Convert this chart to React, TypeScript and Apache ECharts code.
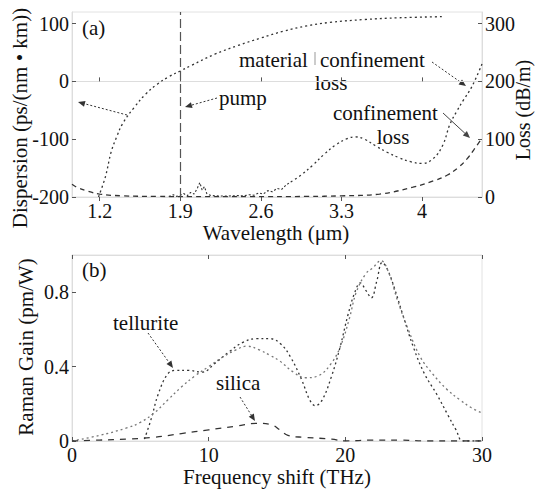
import React, { useEffect, useRef } from "react";
import * as echarts from "echarts";

// ---------- Panel (a) ----------
const wavelengthTicks = [1.2, 1.9, 2.6, 3.3, 4];
const dispersionTicks = [-200, -100, 0, 100];
const lossTicks = [0, 100, 200, 300];
const pumpWavelength = 1.9;

// dispersion, ps/(nm km)
const dispersionData: [number, number][] = [
  [1.19, -200], [1.25, -165], [1.3, -122], [1.35, -95], [1.4, -73], [1.5, -45],
  [1.6, -22], [1.7, -5], [1.8, 8], [1.9, 18], [2.0, 28], [2.2, 47], [2.4, 62],
  [2.6, 75], [2.8, 87], [3.0, 96], [3.2, 102], [3.5, 107], [3.8, 110], [4.18, 112],
];

// material loss, dB/m (noisy measured part)
const materialLossNoisy: [number, number][] = [
  [1.8, 1], [1.84, 4], [1.87, 1], [1.9, 3], [1.93, 6], [1.96, 2], [1.99, 8],
  [2.02, 5], [2.05, 16], [2.07, 25], [2.09, 12], [2.11, 18], [2.13, 6], [2.16, 3],
  [2.2, 2], [2.3, 1.5], [2.4, 2.5], [2.45, 2], [2.5, 4], [2.54, 3], [2.58, 7],
  [2.62, 5], [2.66, 11], [2.7, 9], [2.74, 15], [2.78, 13], [2.82, 21], [2.86, 26],
];
// material loss, dB/m (smooth part)
const materialLossSmooth: [number, number][] = [
  [2.86, 26], [2.95, 38], [3.05, 55], [3.15, 74], [3.25, 90], [3.35, 101],
  [3.42, 104], [3.5, 100], [3.6, 88], [3.7, 77], [3.8, 68], [3.9, 61], [4.0, 58],
  [4.1, 67], [4.18, 90], [4.24, 125], [4.3, 148], [4.36, 168], [4.43, 190], [4.52, 230],
];
// confinement loss, dB/m
const confinementLoss: [number, number][] = [
  [0.96, 22], [1.0, 17], [1.1, 10], [1.2, 5], [1.4, 2], [1.7, 1], [2.0, 0.5],
  [2.5, 0.5], [3.0, 1], [3.3, 2], [3.63, 5], [3.92, 17], [4.1, 28], [4.22, 38],
  [4.32, 52], [4.39, 66], [4.45, 82], [4.52, 102],
];

// ---------- Panel (b) ----------
const freqTicks = [0, 10, 20, 30];
const gainTicks = [0, 0.4, 0.8];

const telluriteA: [number, number][] = [
  [5.3, 0.01], [5.8, 0.12], [6.3, 0.25], [7.0, 0.36], [7.6, 0.38], [8.5, 0.38],
  [9.5, 0.37], [10.5, 0.42], [11.5, 0.48], [12.5, 0.53], [13.5, 0.55], [14.5, 0.55],
  [15.3, 0.52], [16, 0.45], [16.8, 0.33], [17.4, 0.22], [17.8, 0.19], [18.3, 0.22],
  [19, 0.35], [19.6, 0.5], [20.2, 0.68], [20.7, 0.8], [21.1, 0.85], [21.5, 0.81],
  [21.9, 0.77], [22.3, 0.86], [22.7, 0.96], [23.1, 0.92], [23.6, 0.82], [24.2, 0.68],
  [25, 0.5], [25.8, 0.36], [26.7, 0.25], [27.5, 0.14], [28.1, 0.06], [28.6, 0.0], [30, 0.0],
];
const telluriteB: [number, number][] = [
  [0, 0], [2, 0.03], [4, 0.07], [5, 0.1], [6, 0.15], [7, 0.22], [8, 0.29], [9, 0.35],
  [10, 0.4], [11, 0.45], [12, 0.49], [12.8, 0.51], [13.7, 0.49], [14.5, 0.46],
  [15.2, 0.43], [16.2, 0.37], [17.1, 0.34], [18, 0.35], [19, 0.42], [19.7, 0.52],
  [20.3, 0.66], [20.8, 0.8], [21.5, 0.9], [22, 0.93], [22.6, 0.97], [23.2, 0.9],
  [23.8, 0.76], [24.6, 0.6], [25.5, 0.45], [26.4, 0.36], [27.4, 0.28], [28.4, 0.22],
  [29.2, 0.18], [30, 0.15],
];
const silica: [number, number][] = [
  [0, 0], [2, 0.005], [4, 0.01], [6, 0.02], [8, 0.04], [10, 0.06], [12, 0.08],
  [13.5, 0.095], [14.5, 0.09], [15.2, 0.06], [15.8, 0.03], [17, 0.02], [19, 0.01],
  [20, 0.0], [22, 0.005], [24, 0.005], [26, 0.0], [28, 0], [30, 0],
];

const FONT = "'Liberation Serif', 'Times New Roman', 'DejaVu Serif', serif";
const INK = "#111";

function arrow(x1: number, y1: number, x2: number, y2: number, dash: number[] | null, color = "#333") {
  const dx = x2 - x1, dy = y2 - y1;
  const len = Math.sqrt(dx * dx + dy * dy);
  const ux = dx / len, uy = dy / len;
  const px = -uy, py = ux;
  const hl = 7, hw = 3;
  const bx = x2 - ux * hl, by = y2 - uy * hl;
  return [
    {
      type: "line",
      shape: { x1, y1, x2: bx, y2: by },
      style: { stroke: color, lineWidth: 1, lineDash: dash || undefined },
      silent: true,
    },
    {
      type: "polygon",
      shape: { points: [[x2, y2], [bx + px * hw, by + py * hw], [bx - px * hw, by - py * hw]] },
      style: { fill: color },
      silent: true,
    },
  ];
}

function txt(text: string, x: number, y: number, opts: any = {}) {
  const size = opts.fontSize || 21;
  return {
    type: "text",
    x,
    y,
    rotation: opts.rotation || 0,
    silent: true,
    style: {
      text,
      font: `${size}px ${opts.font || FONT}`,
      fill: INK,
      align: opts.align || "left",
      verticalAlign: "middle",
    },
  };
}

export default function App() {
  const ref = useRef<HTMLDivElement>(null);
  useEffect(() => {
    if (!ref.current) return;
    const chart = echarts.init(ref.current, undefined, { renderer: "svg" });
    const labelStyle = { fontSize: 20, fontFamily: FONT, color: INK };
    const faint = { lineStyle: { color: "#dddddd", width: 1 } };
    const tick = { inside: true, length: 4, lineStyle: { color: "#555", width: 1 } };
    const line = (color: string, dash: number[], width = 1.3) => ({
      color,
      width,
      type: dash,
    });

    const option: any = {
      animation: false,
      backgroundColor: "#fff",
      textStyle: { fontFamily: FONT },
      grid: [
        { left: 72, top: 12, width: 410, height: 185, show: true, borderColor: "#e2e2e2", borderWidth: 1 },
        { left: 72, top: 255, width: 410, height: 186, show: true, borderColor: "#e2e2e2", borderWidth: 1 },
      ],
      xAxis: [
        {
          gridIndex: 0, type: "value", min: 0.96, max: 4.52,
          axisLine: faint, splitLine: { show: false },
          axisTick: { ...tick, customValues: wavelengthTicks },
          axisLabel: { ...labelStyle, margin: 4, customValues: wavelengthTicks },
        },
        {
          gridIndex: 1, type: "value", min: 0, max: 30,
          axisLine: faint, splitLine: { show: false },
          axisTick: { ...tick, customValues: freqTicks },
          axisLabel: { ...labelStyle, margin: 4, customValues: freqTicks },
        },
        {
          gridIndex: 0, type: "value", position: "top", min: 0.96, max: 4.52,
          axisLine: faint, splitLine: { show: false },
          axisTick: { ...tick, customValues: wavelengthTicks },
          axisLabel: { show: false },
        },
        {
          gridIndex: 1, type: "value", position: "top", min: 0, max: 30,
          axisLine: faint, splitLine: { show: false },
          axisTick: { ...tick, customValues: freqTicks },
          axisLabel: { show: false },
        },
      ],
      yAxis: [
        {
          gridIndex: 0, type: "value", min: -200, max: 120,
          axisLine: { show: true, ...faint }, splitLine: { show: false },
          axisTick: { ...tick, customValues: dispersionTicks },
          axisLabel: { ...labelStyle, margin: 3, customValues: dispersionTicks },
        },
        {
          gridIndex: 0, type: "value", position: "right", min: 0, max: 320,
          axisLine: { show: true, ...faint }, splitLine: { show: false },
          axisTick: { ...tick, customValues: lossTicks },
          axisLabel: { ...labelStyle, margin: 3, customValues: lossTicks },
        },
        {
          gridIndex: 1, type: "value", min: 0, max: 1,
          axisLine: { show: true, ...faint }, splitLine: { show: false },
          axisTick: { ...tick, customValues: gainTicks },
          axisLabel: { ...labelStyle, margin: 3, customValues: gainTicks },
        },
      ],
      series: [
        {
          name: "dispersion", type: "line", xAxisIndex: 0, yAxisIndex: 0,
          data: dispersionData, smooth: 0.4, showSymbol: false,
          lineStyle: line("#333", [2, 3]),
          markLine: {
            silent: true, symbol: "none", label: { show: false },
            lineStyle: { color: "#555", type: [9, 4], width: 1.2 },
            data: [{ xAxis: pumpWavelength }],
          },
        },
        {
          name: "material loss noisy", type: "line", xAxisIndex: 0, yAxisIndex: 1,
          data: materialLossNoisy, smooth: false, showSymbol: false,
          lineStyle: line("#333", [2, 2], 1.1),
        },
        {
          name: "material loss", type: "line", xAxisIndex: 0, yAxisIndex: 1,
          data: materialLossSmooth, smooth: 0.4, showSymbol: false,
          lineStyle: line("#333", [2, 3]),
        },
        {
          name: "confinement loss", type: "line", xAxisIndex: 0, yAxisIndex: 1,
          data: confinementLoss, smooth: 0.4, showSymbol: false,
          lineStyle: line("#333", [5, 4]),
        },
        {
          name: "tellurite A", type: "line", xAxisIndex: 1, yAxisIndex: 2,
          data: telluriteA, smooth: 0.4, showSymbol: false,
          lineStyle: line("#333", [2, 3]),
        },
        {
          name: "tellurite B", type: "line", xAxisIndex: 1, yAxisIndex: 2,
          data: telluriteB, smooth: 0.4, showSymbol: false,
          lineStyle: line("#777", [2, 3]),
        },
        {
          name: "silica", type: "line", xAxisIndex: 1, yAxisIndex: 2,
          data: silica, smooth: 0.4, showSymbol: false,
          lineStyle: line("#333", [6, 6]),
        },
      ],
      graphic: [
        txt("(a)", 82, 28),
        txt("(b)", 82, 270),
        txt("pump", 219, 98),
        txt("material", 239, 60),
        {
          type: "line", silent: true,
          shape: { x1: 315, y1: 52, x2: 315, y2: 65 },
          style: { stroke: "#999", lineWidth: 1 },
        },
        txt("confinement", 320, 60),
        txt("loss", 331, 83, { align: "center" }),
        txt("confinement", 333, 113),
        txt("loss", 393, 137, { align: "center" }),
        txt("tellurite", 113, 323),
        txt("silica", 216, 383),
        txt("Dispersion (ps/(nm \u2022 km))", 20, 118, { align: "center", rotation: Math.PI / 2, fontSize: 21 }),
        txt("Loss (dB/m)", 523, 110, { align: "center", rotation: Math.PI / 2, fontSize: 20 }),
        txt("Wavelength (\u03bcm)", 276, 233, { align: "center" }),
        txt("Raman Gain (pm/W)", 26, 347, { align: "center", rotation: Math.PI / 2, fontSize: 21 }),
        txt("Frequency shift (THz)", 277, 477, { align: "center" }),
        ...arrow(127, 115, 78, 102, [2, 2]),
        ...arrow(217, 98, 185, 107, [2, 2]),
        ...arrow(432, 62, 466, 86, [2, 2]),
        ...arrow(443, 113, 470, 138, null, "#444"),
        ...arrow(148, 333, 173, 368, [2, 2]),
        ...arrow(240, 397, 255, 421, [2, 2]),
      ],
    };
    chart.setOption(option);
    return () => chart.dispose();
  }, []);
  return (
    <div
      ref={ref}
      style={{ position: "fixed", left: 0, top: 0, width: 536, height: 491, background: "#fff" }}
    />
  );
}
